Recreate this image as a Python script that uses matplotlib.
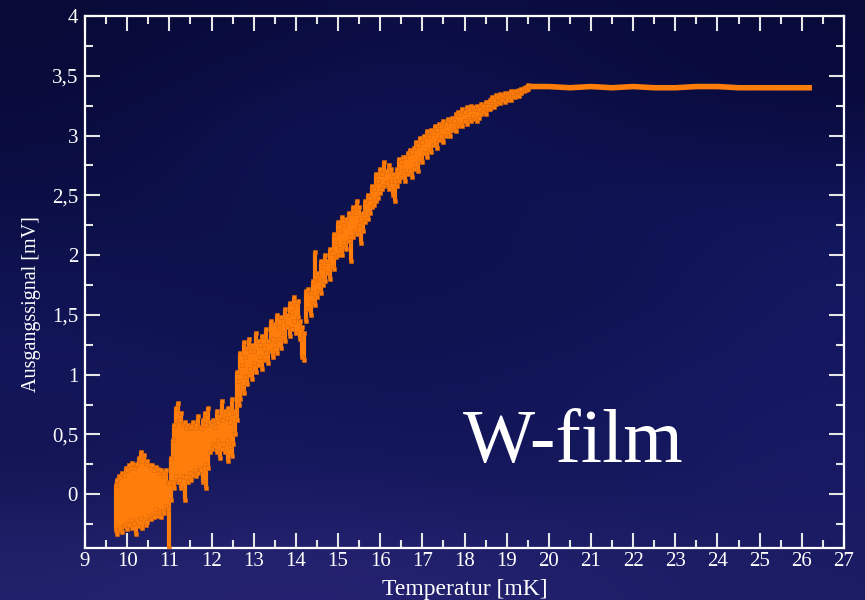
import numpy as np
import matplotlib.pyplot as plt
from matplotlib.ticker import MultipleLocator, FuncFormatter

plt.rcParams['font.family'] = ['Liberation Serif', 'DejaVu Serif']

# Messpunkte unterhalb/im Übergang: je Temperatur ein senkrechter Streifen (min, max)
temp = [9.73, 9.76, 9.80, 9.84, 9.88, 9.92, 9.96, 10.00, 10.04, 10.08,
        10.12, 10.16, 10.20, 10.24, 10.28, 10.32, 10.36, 10.40, 10.44, 10.48,
        10.52, 10.56, 10.60, 10.64, 10.68, 10.72, 10.76, 10.80, 10.84, 10.88,
        10.92, 10.96, 11.00,
        11.05, 11.08, 11.12, 11.16, 11.20, 11.24, 11.28, 11.32, 11.36, 11.40,
        11.44, 11.48, 11.52, 11.56, 11.60, 11.64, 11.68, 11.72, 11.76, 11.80,
        11.84, 11.88, 11.92, 11.96,
        12.00, 12.04, 12.08, 12.12, 12.16, 12.20, 12.24, 12.28, 12.32, 12.36,
        12.40, 12.44, 12.48, 12.52, 12.56, 12.60, 12.64, 12.68, 12.72, 12.76,
        12.80, 12.84, 12.88, 12.92, 12.96,
        13.00, 13.05, 13.10, 13.15, 13.20, 13.25, 13.30, 13.35, 13.40, 13.45,
        13.50, 13.55, 13.60, 13.65, 13.70, 13.75, 13.80, 13.85, 13.90, 13.95,
        14.00, 14.05, 14.10, 14.15, 14.20, 14.25, 14.30, 14.35, 14.40, 14.45,
        14.50, 14.55, 14.60, 14.65, 14.70, 14.75, 14.80, 14.85, 14.90, 14.95,
        15.00, 15.05, 15.10, 15.15, 15.20, 15.25, 15.30, 15.35, 15.40, 15.45,
        15.50, 15.55, 15.60, 15.65, 15.70, 15.75, 15.80, 15.85, 15.90, 15.95,
        16.00, 16.05, 16.10, 16.15, 16.20, 16.25, 16.30, 16.35, 16.40, 16.45,
        16.50, 16.55, 16.60, 16.65, 16.70, 16.75, 16.80, 16.85, 16.90, 16.95,
        17.00, 17.05, 17.10, 17.15, 17.20, 17.25, 17.30, 17.35, 17.40, 17.45,
        17.50, 17.55, 17.60, 17.65, 17.70, 17.75, 17.80, 17.85, 17.90, 17.95,
        18.00, 18.05, 18.10, 18.15, 18.20, 18.25, 18.30, 18.35, 18.40, 18.45,
        18.50, 18.55, 18.60, 18.65, 18.70, 18.75, 18.80, 18.85, 18.90, 18.95,
        19.00, 19.05, 19.10, 19.15, 19.20, 19.25, 19.30, 19.35, 19.40, 19.45,
        19.50]
u_lo = [-0.30, -0.33, -0.30, -0.28, -0.32, -0.27, -0.25, -0.29, -0.26, -0.22,
        -0.28, -0.24, -0.33, -0.22, -0.27, -0.20, -0.28, -0.22, -0.26, -0.23,
        -0.18, -0.21, -0.17, -0.19, -0.12, -0.18, -0.15, -0.19, -0.14, -0.16,
        -0.10, -0.12, -0.45,
        -0.05, 0.10, 0.05, 0.15, 0.10, 0.12, 0.05, 0.15, -0.05, 0.14,
        0.10, 0.18, 0.12, 0.16, 0.20, 0.15, 0.18, 0.22, 0.20, 0.10,
        0.25, 0.05, 0.22, 0.35,
        0.38, 0.42, 0.40, 0.35, 0.45, 0.30, 0.38, 0.42, 0.35, 0.45,
        0.28, 0.40, 0.32, 0.42, 0.50, 0.62, 0.75, 0.80, 0.90, 0.85,
        0.98, 0.92, 1.00, 1.05, 0.96,
        1.10, 1.02, 1.08, 1.15, 1.05, 1.12, 1.18, 1.10, 1.20, 1.15,
        1.25, 1.18, 1.30, 1.22, 1.35, 1.28, 1.40, 1.32, 1.38, 1.45,
        1.35, 1.48, 1.30, 1.15, 1.12, 1.45, 1.55, 1.50, 1.60, 1.58,
        1.65, 1.70, 1.68, 1.75, 1.78, 1.85, 1.80, 1.90, 1.88, 1.98,
        2.00, 2.05, 2.00, 2.10, 2.05, 2.12, 1.95, 2.15, 2.20, 2.18,
        2.25, 2.10, 2.20, 2.28, 2.30, 2.35, 2.40, 2.42, 2.45, 2.48,
        2.52, 2.55, 2.58, 2.60, 2.55, 2.62, 2.50, 2.45, 2.58, 2.62,
        2.65, 2.70, 2.62, 2.68, 2.70, 2.65, 2.72, 2.76, 2.70, 2.80,
        2.78, 2.85, 2.82, 2.88, 2.86, 2.92, 2.94, 2.90, 2.96, 3.00,
        2.95, 3.00, 3.02, 3.00, 3.05, 3.06, 3.04, 3.08, 3.10, 3.08,
        3.12, 3.10, 3.14, 3.12, 3.16, 3.14, 3.12, 3.15, 3.18, 3.20,
        3.18, 3.22, 3.22, 3.25, 3.24, 3.26, 3.28, 3.27, 3.30, 3.28,
        3.30, 3.32, 3.30, 3.33, 3.32, 3.34, 3.33, 3.36, 3.37, 3.38,
        3.39]
u_hi = [0.08, 0.12, 0.15, 0.14, 0.18, 0.16, 0.22, 0.20, 0.24, 0.22,
        0.26, 0.22, 0.24, 0.25, 0.30, 0.35, 0.28, 0.33, 0.26, 0.28,
        0.24, 0.22, 0.24, 0.20, 0.23, 0.21, 0.18, 0.20, 0.15, 0.18,
        0.20, 0.10, 0.09,
        0.30, 0.45, 0.58, 0.72, 0.76, 0.62, 0.68, 0.58, 0.60, 0.55,
        0.58, 0.55, 0.56, 0.60, 0.55, 0.58, 0.65, 0.56, 0.55, 0.62,
        0.68, 0.58, 0.72, 0.60,
        0.58, 0.62, 0.56, 0.70, 0.60, 0.65, 0.78, 0.62, 0.70, 0.64,
        0.72, 0.60, 0.80, 0.68, 0.70, 1.02, 0.95, 1.18, 1.08, 1.27,
        1.15, 1.22, 1.30, 1.20, 1.25,
        1.20, 1.35, 1.28, 1.25, 1.32, 1.22, 1.38, 1.28, 1.45, 1.30,
        1.42, 1.50, 1.40, 1.48, 1.45, 1.55, 1.50, 1.60, 1.52, 1.65,
        1.58, 1.62, 1.45, 1.40, 1.35, 1.70, 1.72, 1.68, 1.78, 2.03,
        1.85, 1.80, 1.95, 1.90, 2.00, 1.95, 2.05, 2.02, 2.18, 2.10,
        2.28, 2.20, 2.32, 2.25, 2.30, 2.35, 2.15, 2.40, 2.35, 2.45,
        2.40, 2.30, 2.35, 2.45, 2.50, 2.48, 2.58, 2.55, 2.68, 2.62,
        2.72, 2.68, 2.78, 2.70, 2.75, 2.72, 2.68, 2.62, 2.72, 2.80,
        2.78, 2.82, 2.82, 2.85, 2.88, 2.86, 2.90, 2.95, 2.92, 2.98,
        2.95, 3.00, 3.04, 3.00, 3.05, 3.02, 3.08, 3.05, 3.10, 3.08,
        3.12, 3.10, 3.14, 3.12, 3.15, 3.12, 3.18, 3.20, 3.18, 3.22,
        3.20, 3.24, 3.22, 3.25, 3.24, 3.22, 3.25, 3.22, 3.26, 3.25,
        3.28, 3.28, 3.30, 3.32, 3.30, 3.34, 3.32, 3.35, 3.34, 3.36,
        3.35, 3.36, 3.37, 3.36, 3.37, 3.37, 3.38, 3.39, 3.40, 3.41,
        3.42]

# Normalleitender Bereich (Plateau)
plat_t = [19.55, 20.0, 20.5, 21.0, 21.5, 22.0, 22.5, 23.0, 23.5, 24.0,
          24.5, 25.0, 25.5, 26.0, 26.24]
plat_u = [3.41, 3.41, 3.40, 3.41, 3.40, 3.41, 3.40, 3.40, 3.41, 3.41,
          3.40, 3.40, 3.40, 3.40, 3.40]

orange = '#ff7d0a'

fig = plt.figure(figsize=(8.65, 6.0), dpi=100)

# dunkelblauer, wolkiger Hintergrund
bg_rgb = np.array([
    [(8, 10, 55), (10, 12, 62), (12, 14, 70), (10, 12, 62), (8, 10, 58)],
    [(10, 12, 62), (14, 18, 80), (16, 20, 88), (12, 15, 72), (10, 12, 66)],
    [(12, 15, 70), (14, 18, 78), (12, 16, 74), (16, 20, 86), (18, 22, 92)],
    [(16, 20, 85), (12, 16, 74), (14, 18, 80), (14, 18, 78), (20, 24, 96)],
    [(20, 22, 90), (18, 22, 88), (16, 20, 84), (20, 24, 94), (22, 24, 98)],
    [(18, 20, 82), (22, 24, 96), (20, 22, 90), (18, 22, 88), (24, 26, 100)],
    [(34, 34, 108), (38, 36, 114), (36, 34, 112), (32, 32, 106), (28, 28, 100)],
], dtype=float) / 255.0
bg = fig.add_axes([0, 0, 1, 1])
bg.imshow(bg_rgb, aspect='auto', interpolation='bicubic', extent=[0, 1, 0, 1])
bg.set_axis_off()

ax = fig.add_axes([0.0983, 0.0867, 0.8774, 0.8866])
ax.patch.set_alpha(0)

ax.vlines(temp, u_lo, u_hi, colors=orange, linewidth=3.0, zorder=3)
ax.plot(temp, u_lo, 's', ms=3.4, color=orange, mec='#e06a08', mew=0.4, zorder=4)
ax.plot(temp, u_hi, 's', ms=3.4, color=orange, mec='#e06a08', mew=0.4, zorder=4)
ax.plot(plat_t, plat_u, '-', color=orange, linewidth=4.0, solid_capstyle='butt', zorder=3)

ax.set_xlim(9, 27)
ax.set_ylim(-0.45, 4)

ax.xaxis.set_major_locator(MultipleLocator(1))
ax.xaxis.set_minor_locator(MultipleLocator(0.5))
ax.yaxis.set_major_locator(MultipleLocator(0.5))
ax.yaxis.set_minor_locator(MultipleLocator(0.25))
ax.yaxis.set_major_formatter(FuncFormatter(lambda v, _: ('%g' % v).replace('.', ',')))

for s in ax.spines.values():
    s.set_color('white')
    s.set_linewidth(1.6)

ax.tick_params(which='both', direction='in', top=True, right=True,
               color='#e6e6e6', labelcolor='white', labelsize=15)
ax.tick_params(which='major', length=11, width=1.5)
ax.tick_params(which='minor', length=5.5, width=1.5)
ax.tick_params(axis='x', pad=3)
ax.tick_params(axis='y', pad=5)

fig.text(0.5373, 0.018, 'Temperatur [mK]', color='white', fontsize=17,
         ha='center', va='center')
fig.text(0.036, 0.493, 'Ausgangssignal [mV]', color='white', fontsize=14.5,
         ha='center', va='center', rotation=90)

ax.text(17.96, 0.27, 'W-film', color='white', fontsize=55,
        ha='left', va='baseline')

fig.savefig('out.png', dpi=100)
